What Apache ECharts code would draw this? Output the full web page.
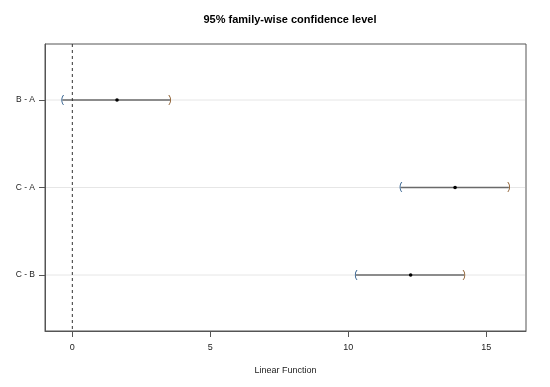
<!DOCTYPE html>
<html><head><meta charset="utf-8">
<script src="https://cdn.jsdelivr.net/npm/echarts@6/dist/echarts.min.js"></script>
<style>html,body{margin:0;padding:0;background:#fff}#c{width:550px;height:387px}</style>
</head><body><div id="c"></div>
<script>
const comparisons = ['C - B', 'C - A', 'B - A'];
const lowerValues = [10.28, 11.90, -0.36];
const centerValues = [12.26, 13.87, 1.62];
const upperValues = [14.20, 15.82, 3.54];
const xTicks = [0, 5, 10, 15];
const zeroLine = [0];

const data = comparisons.map((c, i) => [i + 1, lowerValues[i], centerValues[i], upperValues[i]]);
const FONT = '"Liberation Sans", Arial, sans-serif';

const chart = echarts.init(document.getElementById('c'));
chart.setOption({
  animation: false,
  title: {
    text: '95% family-wise confidence level',
    left: 285, top: 9, textAlign: 'center',
    textStyle: { fontFamily: FONT, fontSize: 11, fontWeight: 'bold', color: '#000' }
  },
  grid: { left: 45, right: 24, top: 44, bottom: 56, show: true, borderColor: '#555', borderWidth: 1, backgroundColor: 'transparent' },
  xAxis: {
    type: 'value', min: -0.99, max: 16.44, position: 'bottom',
    name: 'Linear Function', nameLocation: 'middle', nameGap: 35,
    nameTextStyle: { fontFamily: FONT, fontSize: 9, color: '#222' },
    axisLine: { show: true, onZero: false, lineStyle: { color: '#555', width: 1 } },
    axisTick: { show: true, length: 6, lineStyle: { color: '#555' }, customValues: xTicks },
    axisLabel: { fontFamily: FONT, fontSize: 9, color: '#222', margin: 12, customValues: xTicks },
    splitLine: { show: false }
  },
  yAxis: {
    type: 'value', min: 0.36, max: 3.64, position: 'left',
    axisLine: { show: true, onZero: false, lineStyle: { color: '#555', width: 1 } },
    axisTick: { show: true, length: 6, lineStyle: { color: '#555' }, customValues: [1, 2, 3] },
    axisLabel: { fontFamily: FONT, fontSize: 8.5, color: '#222', margin: 10, customValues: [1, 2, 3],
      formatter: v => comparisons[Math.round(v) - 1] || '' },
    splitLine: { show: false }
  },
  series: [{
    type: 'custom',
    data: data,
    silent: true,
    renderItem: function (params, api) {
      const y = api.value(0);
      const pL = api.coord([api.value(1), y]);
      const pC = api.coord([api.value(2), y]);
      const pU = api.coord([api.value(3), y]);
      const cs = params.coordSys;
      return {
        type: 'group',
        children: [
          { type: 'line', shape: { x1: cs.x + 1, y1: pC[1], x2: cs.x + cs.width - 1, y2: pC[1] }, style: { stroke: '#e6e6e6', lineWidth: 1 } },
          { type: 'line', shape: { x1: pL[0], y1: pL[1], x2: pU[0], y2: pU[1] }, style: { stroke: '#6a6a6a', lineWidth: 1.5 } },
          { type: 'text', x: pL[0], y: pL[1], style: { text: '(', fill: '#2b5a8a', font: '10px ' + FONT, align: 'center', verticalAlign: 'middle' } },
          { type: 'text', x: pU[0], y: pU[1], style: { text: ')', fill: '#8a5a2b', font: '10px ' + FONT, align: 'center', verticalAlign: 'middle' } },
          { type: 'circle', shape: { cx: pC[0], cy: pC[1], r: 1.8 }, style: { fill: '#000' } }
        ]
      };
    },
    z: 3
  }, {
    type: 'custom',
    data: zeroLine.map(v => [v]),
    silent: true,
    renderItem: function (params, api) {
      const cs = params.coordSys;
      const p = api.coord([api.value(0), 2]);
      return { type: 'line', shape: { x1: p[0], y1: cs.y, x2: p[0], y2: cs.y + cs.height }, style: { stroke: '#333', lineWidth: 1, lineDash: [3, 3] } };
    },
    z: 4
  }]
});
</script></body></html>
